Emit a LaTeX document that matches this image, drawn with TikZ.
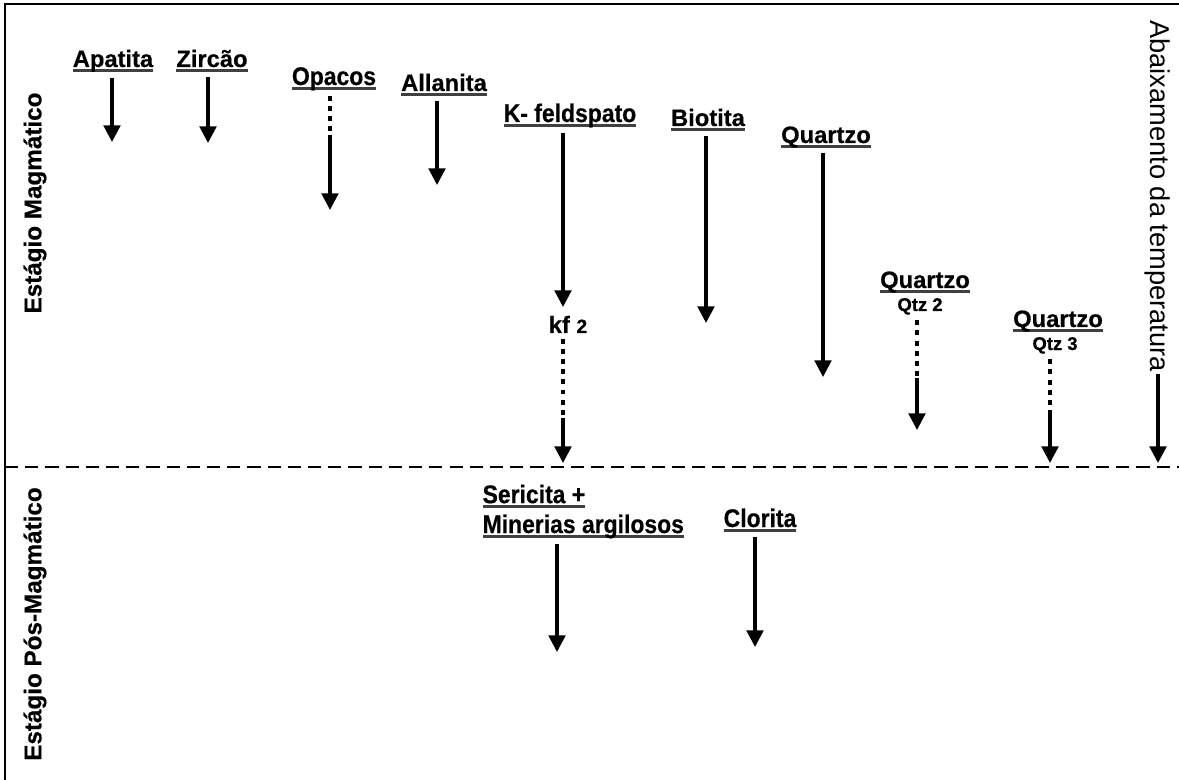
\documentclass[tikz,border=0pt]{standalone}
\usepackage{fontspec}
\setmainfont{Liberation Sans}[BoldFeatures={FakeBold=0.5}]
\newfontfamily\estreita[FakeStretch=0.9,BoldFeatures={FakeBold=0.5}]{Liberation Sans}
\usetikzlibrary{arrows.meta}
% sublinhado cinza, a pouca distancia da linha de base
\newsavebox\caixa
\newcommand\sublinha[1]{\sbox\caixa{#1}\rlap{\color{black!75}\rule[-2.6pt]{\wd\caixa}{1.3pt}}\usebox\caixa}

\begin{document}
\begin{tikzpicture}[x=0.02cm, y=-0.02cm,
  mineral/.style = {font=\fontsize{13.5}{16}\selectfont\bfseries, inner sep=3pt, anchor=base},
  estreito/.style = {font=\estreita\fontsize{14.5}{17}\selectfont\bfseries, inner sep=3pt, anchor=base},
  fase/.style = {font=\fontsize{13.8}{16}\selectfont\bfseries, rotate=90, inner sep=0pt},
  seta/.style = {line width=1.8pt, -{Triangle[width=9.5pt,length=9.5pt]}},
  pontos/.style = {line width=1.8pt, dash pattern=on 2.8pt off 3pt},
  tracejado/.style = {line width=1.7pt, dash pattern=on 7.5pt off 4pt}]
	\useasboundingbox (0,0) rectangle (1179,780);
	% moldura e limite entre os estagios
	\draw[line width=1.7pt] (5,780) -- (5,4) -- (1179,4);
	\draw[tracejado] (5,467) -- (1179,467);
	\node[fase] (mag) at (35,203) {Estágio Magmático};
	\node[fase] (pos) at (35,624) {Estágio Pós-Magmático};
	% estagio magmatico
	\node[mineral] (apa) at (113,67) {\sublinha{Apatita}};
	\node[mineral] (zir) at (212,67) {\sublinha{Zircão}};
	\node[estreito] (opa) at (334,85) {\sublinha{Opacos}};
	\node[mineral] (all) at (444,91) {\sublinha{Allanita}};
	\node[estreito] (kfe) at (570,122) {\sublinha{K- feldspato}};
	\node[mineral] (kf2) at (568,333) {kf {\fontsize{11}{13}\selectfont 2}};
	\node[mineral] (bio) at (708,126) {\sublinha{Biotita}};
	\node[mineral] (qz1) at (826,143) {\sublinha{Quartzo}};
	\node[mineral] (qz2) at (925,288) {\sublinha{Quartzo}};
	\node[mineral, font=\fontsize{10.5}{12}\selectfont\bfseries] (qtz2) at (920,311) {Qtz 2};
	\node[mineral] (qz3) at (1058,327) {\sublinha{Quartzo}};
	\node[mineral, font=\fontsize{10.5}{12}\selectfont\bfseries] (qtz3) at (1055,350) {Qtz 3};
	\node[rotate=-90, inner sep=1pt, font=\fontsize{15.5}{18}\selectfont] (aba) at (1158,196) {Abaixamento da temperatura};
	% estagio pos-magmatico
	\node[estreito, anchor=base west, align=left] (ser) at (477,533) {\sublinha{Sericita +}\\\sublinha{Minerias argilosos}};
	\node[estreito] (clo) at (760,527) {\sublinha{Clorita}};
	% pontas das setas
	\coordinate (a1) at (112,142);
	\coordinate (z1) at (208,143);
	\coordinate (o1) at (330,135);
	\coordinate (o2) at (330,210);
	\coordinate (l1) at (437,185);
	\coordinate (k1) at (563,307);
	\coordinate (k2) at (563,418);
	\coordinate (k3) at (563,463);
	\coordinate (b1) at (706,323);
	\coordinate (q1) at (823,377);
	\coordinate (q2) at (917,378);
	\coordinate (q3) at (917,430);
	\coordinate (q4) at (1050,412);
	\coordinate (q5) at (1050,463);
	\coordinate (t1) at (1158,463);
	\coordinate (s1) at (557,652);
	\coordinate (c1) at (755,647);
	\draw[seta] (apa.south -| a1) -- (a1);
	\draw[seta] (zir.south -| z1) -- (z1);
	\draw[pontos] (opa.south -| o1) -- (o1);
	\draw[seta] (o1) -- (o2);
	\draw[seta] (all.south -| l1) -- (l1);
	\draw[seta] (kfe.south -| k1) -- (k1);
	\draw[pontos] (kf2.south -| k2) -- (k2);
	\draw[seta] (k2) -- (k3);
	\draw[seta] (bio.south -| b1) -- (b1);
	\draw[seta] (qz1.south -| q1) -- (q1);
	\draw[pontos] (qtz2.south -| q2) -- (q2);
	\draw[seta] (q2) -- (q3);
	\draw[pontos] (qtz3.south -| q4) -- (q4);
	\draw[seta] (q4) -- (q5);
	\draw[seta] (aba.east) -- (t1);
	\draw[seta] (ser.south -| s1) -- (s1);
	\draw[seta] (clo.south -| c1) -- (c1);
\end{tikzpicture}
\end{document}
